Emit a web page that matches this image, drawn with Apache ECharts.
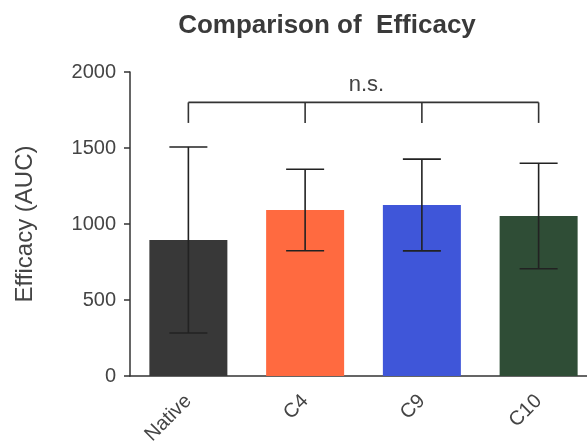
<!DOCTYPE html>
<html>
<head>
<meta charset="utf-8">
<script src="https://cdn.jsdelivr.net/npm/echarts@6/dist/echarts.min.js"></script>
<style>
  html, body { margin: 0; padding: 0; background: #fff; overflow: hidden; }
  /* the x axis runs past the right edge in the reference, so the canvas is a bit wider than the window */
  #chart { width: 600px; height: 444px; }
</style>
</head>
<body>
<div id="chart"></div>
<script>
  // values
  var groups = ['Native', 'C4', 'C9', 'C10'];
  var means = [895, 1092, 1125, 1053];
  var sds = [612, 268, 302, 347];
  var barColors = ['#383838', '#ff6a40', '#3f56d9', '#2f4d36'];
  var yTicks = [0, 500, 1000, 1500, 2000];
  // significance bracket: level of bar, level of leg ends, label level
  var bracket = { from: 0, to: 3, top: 1800, legEnd: 1665, label: 'n.s.', labelAt: 1918 };

  var font = 'Liberation Sans, Arial, sans-serif';
  var ink = '#333';

  var chart = echarts.init(document.getElementById('chart'));

  var errData = groups.map(function (g, i) {
    return [i, means[i] - sds[i], means[i] + sds[i]];
  });

  var option = {
    animation: false,
    textStyle: { fontFamily: font },
    title: {
      text: 'Comparison of  Efficacy',
      left: 322,
      textAlign: 'center',
      top: 8,
      textStyle: { fontFamily: font, fontSize: 26, fontWeight: 'bold', color: '#3a3a3a' }
    },
    grid: { left: 130, top: 72, width: 467, height: 304, containLabel: false, outerBoundsMode: 'none' },
    xAxis: {
      type: 'category',
      data: groups,
      axisLine: { lineStyle: { color: ink, width: 1.5 } },
      axisTick: { alignWithLabel: true, length: 7, lineStyle: { color: ink, width: 1.5 } },
      axisLabel: { rotate: 45, fontSize: 20, color: '#444', margin: 22, fontFamily: font }
    },
    yAxis: {
      type: 'value',
      min: yTicks[0],
      max: yTicks[yTicks.length - 1],
      interval: yTicks[1] - yTicks[0],
      name: 'Efficacy (AUC)',
      nameLocation: 'middle',
      nameGap: 93,
      nameTextStyle: { fontSize: 24, color: '#444', fontFamily: font },
      axisLine: { show: true, lineStyle: { color: ink, width: 1.5 } },
      axisTick: { show: true, length: 6, lineStyle: { color: ink, width: 1.5 } },
      axisLabel: {
        fontSize: 20, color: '#444', margin: 14, fontFamily: font,
        formatter: function (v) { return String(v); }
      },
      splitLine: { show: false }
    },
    series: [
      {
        type: 'bar',
        barWidth: 78,
        data: means.map(function (v, i) {
          return { value: v, itemStyle: { color: barColors[i] } };
        }),
        z: 2
      },
      {
        type: 'custom',
        z: 3,
        data: errData,
        renderItem: function (params, api) {
          var x = api.value(0);
          var lo = api.coord([x, api.value(1)]);
          var hi = api.coord([x, api.value(2)]);
          var half = 19;
          var st = { stroke: '#222', lineWidth: 1.6 };
          return {
            type: 'group',
            children: [
              { type: 'line', shape: { x1: hi[0], y1: hi[1], x2: lo[0], y2: lo[1] }, style: st },
              { type: 'line', shape: { x1: hi[0] - half, y1: hi[1], x2: hi[0] + half, y2: hi[1] }, style: st },
              { type: 'line', shape: { x1: lo[0] - half, y1: lo[1], x2: lo[0] + half, y2: lo[1] }, style: st }
            ]
          };
        }
      },
      {
        type: 'custom',
        z: 3,
        data: [[bracket.from, bracket.to]],
        renderItem: function (params, api) {
          var st = { stroke: ink, lineWidth: 1.6 };
          var kids = [];
          var a = api.coord([bracket.from, bracket.top]);
          var b = api.coord([bracket.to, bracket.top]);
          kids.push({ type: 'line', shape: { x1: a[0], y1: a[1], x2: b[0], y2: b[1] }, style: st });
          for (var i = bracket.from; i <= bracket.to; i++) {
            var p = api.coord([i, bracket.top]);
            var q = api.coord([i, bracket.legEnd]);
            kids.push({ type: 'line', shape: { x1: p[0], y1: p[1], x2: q[0], y2: q[1] }, style: st });
          }
          var ly = api.coord([bracket.from, bracket.labelAt])[1];
          kids.push({
            type: 'text',
            style: {
              x: (a[0] + b[0]) / 2 + 3, y: ly, text: bracket.label,
              textAlign: 'center', textVerticalAlign: 'middle',
              font: '22px ' + font, fill: '#444'
            }
          });
          return { type: 'group', children: kids };
        }
      }
    ]
  };

  chart.setOption(option);
</script>
</body>
</html>
